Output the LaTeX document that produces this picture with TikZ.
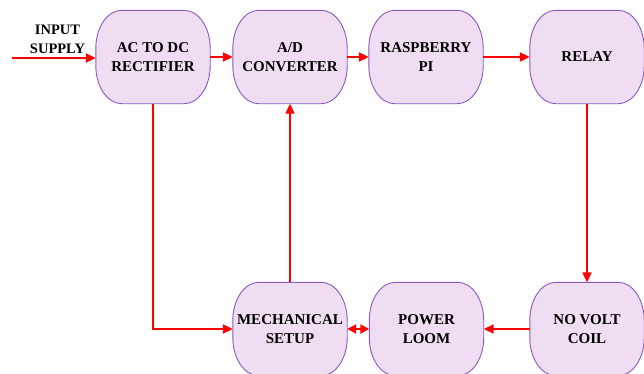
\documentclass[tikz,border=0pt]{standalone}
\usepackage{fontspec}
\setmainfont{Liberation Serif}
\usetikzlibrary{arrows.meta,backgrounds}
\definecolor{boxfill}{HTML}{EFDDF1}
\definecolor{boxdraw}{HTML}{8B58C2}
\definecolor{linered}{HTML}{FF0000}
\tikzset{
  blockbox/.style={rectangle, minimum width=114pt, minimum height=93pt,
    inner sep=0pt, align=center, font=\fontsize{15}{19}\selectfont\bfseries},
  boxshape/.style={draw=boxdraw, fill=boxfill, line width=0.9pt},
  redarrow/.style={draw=linered, line width=2pt, -{Triangle[length=10pt,width=9pt]}},
  redboth/.style={draw=linered, line width=2pt, {Triangle[length=9pt,width=9pt]}-{Triangle[length=9pt,width=9pt]}},
  plainlabel/.style={align=center, inner sep=0pt, font=\fontsize{14.5}{19}\selectfont\bfseries}
}
\newcommand{\shapeof}[1]{%
  \path[boxshape] ([xshift=26pt]#1.north west) -- ([xshift=-26pt]#1.north east)
    arc[start angle=90,end angle=0,x radius=26pt,y radius=38pt]
    -- ([yshift=38pt]#1.south east)
    arc[start angle=0,end angle=-90,x radius=26pt,y radius=38pt]
    -- ([xshift=26pt]#1.south west)
    arc[start angle=270,end angle=180,x radius=26pt,y radius=38pt]
    -- ([yshift=-38pt]#1.north west)
    arc[start angle=180,end angle=90,x radius=26pt,y radius=38pt] -- cycle;}
\begin{document}
\begin{tikzpicture}[x=1pt,y=-1pt]
\useasboundingbox (0,0) rectangle (644,373);
\node[blockbox] (ac) at (153,57) {AC TO DC\\RECTIFIER};
\node[blockbox] (ad) at (290,57) {A/D\\CONVERTER};
\node[blockbox] (rp) at (426,57) {RASPBERRY\\PI};
\node[blockbox] (rl) at (587,57) {RELAY};
\node[blockbox] (ms) at (290,329) {MECHANICAL\\SETUP};
\node[blockbox] (pl) at (426.5,329) {POWER\\LOOM};
\node[blockbox] (nv) at (587,329) {NO VOLT\\COIL};
\node[plainlabel] (in) at (57.5,39.5) {INPUT\\SUPPLY};
\begin{pgfonlayer}{background}
\foreach \n in {ac,ad,rp,rl,ms,pl,nv} {\shapeof{\n}}
\end{pgfonlayer}
\coordinate (src) at (12,58);
\draw[redarrow] (src) -- (src -| ac.west);
\draw[redarrow] (ac.east) -- (ad.west);
\draw[redarrow] (ad.east) -- (rp.west);
\draw[redarrow] (rp.east) -- (rl.west);
\draw[redarrow] (rl.south) -- (nv.north);
\draw[redarrow] (nv.west) -- (pl.east);
\draw[redboth] (ms.east) -- (pl.west);
\draw[redarrow] (ac.south) |- (ms.west);
\draw[redarrow] (ms.north) -- (ad.south);
\end{tikzpicture}
\end{document}
